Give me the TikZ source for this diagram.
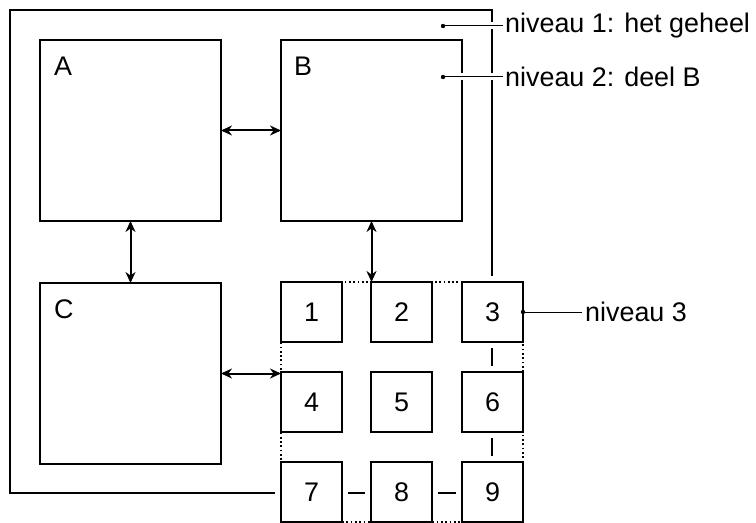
\documentclass[tikz,border=0pt]{standalone}
\usepackage{fontspec}
\setmainfont{Liberation Sans}
\usetikzlibrary{arrows.meta}
\begin{document}
\begin{tikzpicture}[x=1bp,y=-1bp,
  frame/.style={draw, line width=1.8bp},
  box/.style={draw, line width=1.9bp, fill=white, inner sep=0pt, outer sep=0pt},
  bigbox/.style={box, anchor=north west, minimum width=181bp, minimum height=181bp},
  cell/.style={box, anchor=north west, minimum width=61bp, minimum height=60bp,
    preaction={draw=white, line width=12bp}},
  lab/.style={inner sep=0pt, font=\fontsize{27}{32}\selectfont},
  dar/.style={line width=2bp, {Stealth[length=11bp,width=10bp]}-{Stealth[length=11bp,width=10bp]}},
  grid3/.style={line width=1.7bp, dash pattern=on 1.7bp off 2.6bp},
  leader/.style={line width=1bp},
  halo/.style={preaction={draw=white, line width=7bp}},
  dotm/.style={fill, radius=2.2bp}
]
\useasboundingbox (0,0) rectangle (756,523);
% niveau 1 frame
\coordinate (f1) at (10,10);
\coordinate (f2) at (492,493);
\draw[frame] (f1) rectangle (f2);
% big boxes
\node[bigbox] (A) at (40,40) {};
\node[bigbox] (B) at (281,40) {};
\node[bigbox] (C) at (40,283) {};
\node[lab, anchor=north west] (la) at ([xshift=14bp,yshift=-17bp]A.north west) {A};
\node[lab, anchor=north west] (lb) at ([xshift=13bp,yshift=-17bp]B.north west) {B};
\node[lab, anchor=north west] (lc) at ([xshift=14bp,yshift=-17bp]C.north west) {C};
% grid cells
\node[cell] (c1) at (281,282) {};
\node[cell] (c2) at (371,282) {};
\node[cell] (c3) at (462,282) {};
\node[cell] (c4) at (281,372) {};
\node[cell] (c5) at (371,372) {};
\node[cell] (c6) at (462,372) {};
\node[cell] (c7) at (281,462) {};
\node[cell] (c8) at (371,462) {};
\node[cell] (c9) at (462,462) {};
\foreach \i in {1,...,9} {\node[lab] (t\i) at (c\i.center) {\i};}
% dotted outline of niveau 3
\draw[grid3] (c1.north west) rectangle (c9.south east);
% arrows
\draw[dar] (A.east) -- (B.west);
\draw[dar] (A.south) -- (C.north);
\draw[dar] (B.south) -- (B.south |- c1.north);
\draw[dar] (C.east) -- (C.east -| c4.west);
% leaders
\coordinate (d1) at (443,26);
\coordinate (e1) at (503,26);
\coordinate (d2) at (443,77);
\coordinate (e2) at (503,77);
\coordinate (e3) at (582,0 |- c3.east);
\draw[leader, halo] (d1) -- (e1);
\draw[leader, halo] (d2) -- (e2);
\draw[leader] (c3.east) -- (e3);
\fill[dotm] (d1) circle;
\fill[dotm] (d2) circle;
\fill[dotm] (c3.east) circle;
\node[lab, anchor=west] (n1) at ([xshift=2bp]e1) {niveau 1: het geheel};
\node[lab, anchor=west] (n2) at ([xshift=2bp]e2) {niveau 2: deel B};
\node[lab, anchor=west] (n3) at ([xshift=3bp]e3) {niveau 3};
\end{tikzpicture}
\end{document}
